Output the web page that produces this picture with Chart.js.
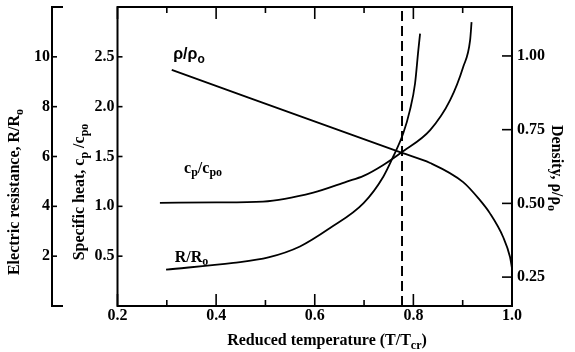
<!DOCTYPE html>
<html>
<head>
<meta charset="utf-8">
<script src="https://cdn.jsdelivr.net/npm/chart.js@4.4.1/dist/chart.umd.min.js"></script>
<style>
    html, body { margin: 0; padding: 0; background: #fff; }
    #wrap { width: 575px; height: 352px; }
</style>
</head>
<body>
<div id="wrap"><canvas id="chart" width="575" height="352"></canvas></div>
<script>
// values (x = reduced temperature T/Tcr)
const tempRho = [0.31, 0.777, 0.834, 0.901, 0.935, 0.955, 0.982, 0.996, 1.0];
const rhoVals = [0.953, 0.671, 0.637, 0.572, 0.511, 0.467, 0.386, 0.318, 0.28];

const tempCp = [0.286, 0.40, 0.495, 0.597, 0.665, 0.699, 0.739, 0.777, 0.834, 0.8745, 0.901, 0.915, 0.918];
const cpVals = [1.035, 1.04, 1.048, 1.138, 1.248, 1.305, 1.415, 1.545, 1.765, 2.065, 2.398, 2.665, 2.848];

const tempR = [0.2985, 0.435, 0.506, 0.570, 0.631, 0.699, 0.739, 0.759, 0.7795, 0.793, 0.8034, 0.810, 0.8136];
const rVals = [1.46, 1.73, 1.95, 2.39, 3.13, 4.13, 5.19, 5.99, 6.93, 7.86, 8.93, 10.26, 10.93];

const criticalT = 0.777;

const xTicks = [0.2, 0.3, 0.4, 0.5, 0.6, 0.7, 0.8, 0.9, 1.0];
const xLabels = [0.2, 0.4, 0.6, 0.8, 1.0];
const cpTicks = [0.5, 1.0, 1.5, 2.0, 2.5];
const rTicks = [2, 4, 6, 8, 10];
const rhoTicks = [0.25, 0.50, 0.75, 1.00];

const SERIF = '"Liberation Serif", "Times New Roman", serif';
const SANS = '"Liberation Sans", Arial, sans-serif';

const toPoints = (xs, ys) => xs.map((x, i) => ({ x, y: ys[i] }));

// text with subscripts: parts = [[text], [text, 'sub'], ...]
function drawRich(ctx, parts, x, y, size, align, family) {
    const fam = family || SERIF;
    const subSize = Math.round(size * 0.75);
    let w = 0;
    parts.forEach(p => {
        ctx.font = `bold ${p[1] ? subSize : size}px ${fam}`;
        w += ctx.measureText(p[0]).width;
    });
    let cx = align === 'center' ? x - w / 2 : align === 'right' ? x - w : x;
    ctx.textAlign = 'left';
    ctx.textBaseline = 'middle';
    parts.forEach(p => {
        ctx.font = `bold ${p[1] ? subSize : size}px ${fam}`;
        ctx.fillText(p[0], cx, p[1] ? y + size * 0.3 : y);
        cx += ctx.measureText(p[0]).width;
    });
}

function line(ctx, x1, y1, x2, y2) {
    ctx.beginPath();
    ctx.moveTo(x1, y1);
    ctx.lineTo(x2, y2);
    ctx.stroke();
}

const axesPlugin = {
    id: 'bookAxes',
    afterDraw(chart) {
        const { ctx, chartArea: a, scales } = chart;
        const x = scales.x, cp = scales.cp, r = scales.res, rho = scales.rho;
        ctx.save();
        ctx.strokeStyle = '#000';
        ctx.fillStyle = '#000';
        ctx.lineWidth = 2;

        // frame
        ctx.strokeRect(a.left, a.top, a.right - a.left, a.bottom - a.top);

        // x ticks, inward at bottom and top
        ctx.lineWidth = 1.6;
        xTicks.forEach(v => {
            const px = x.getPixelForValue(v);
            const len = xLabels.some(l => Math.abs(l - v) < 1e-9) ? 12 : 6;
            line(ctx, px, a.bottom, px, a.bottom - len);
            line(ctx, px, a.top, px, a.top + len);
        });
        xLabels.forEach(v => {
            drawRich(ctx, [[v.toFixed(1)]], x.getPixelForValue(v), a.bottom + 10, 16, 'center');
        });
        drawRich(ctx, [['Reduced temperature (T/T'], ['cr', 'sub'], [')']], 327, 341, 16, 'center');

        // specific heat axis on the frame
        cpTicks.forEach(v => {
            const py = cp.getPixelForValue(v);
            line(ctx, a.left, py, a.left + 5, py);
            drawRich(ctx, [[v.toFixed(1)]], a.left - 3, py, 16, 'right');
        });

        // electric resistance axis, detached bracket
        const rx = 52;
        ctx.lineWidth = 2;
        ctx.beginPath();
        ctx.moveTo(rx + 11, r.getPixelForValue(r.max));
        ctx.lineTo(rx, r.getPixelForValue(r.max));
        ctx.lineTo(rx, r.getPixelForValue(r.min));
        ctx.lineTo(rx + 11, r.getPixelForValue(r.min));
        ctx.stroke();
        ctx.lineWidth = 1.6;
        rTicks.forEach(v => {
            const py = r.getPixelForValue(v);
            line(ctx, rx, py, rx + 5, py);
            drawRich(ctx, [[String(v)]], rx - 2, py, 16, 'right');
        });

        // density axis on the right edge
        rhoTicks.forEach(v => {
            const py = rho.getPixelForValue(v);
            line(ctx, a.right, py, a.right - 10, py);
            drawRich(ctx, [[v.toFixed(2)]], a.right + 5, py, 16, 'left');
        });

        // axis titles
        ctx.save();
        ctx.translate(15, 192);
        ctx.rotate(-Math.PI / 2);
        drawRich(ctx, [['Electric resistance, R/R'], ['o', 'sub']], 0, 0, 16, 'center');
        ctx.restore();

        ctx.save();
        ctx.translate(80, 192);
        ctx.rotate(-Math.PI / 2);
        drawRich(ctx, [['Specific heat, c'], ['p', 'sub'], [' /c'], ['po', 'sub']], 0, 0, 16, 'center');
        ctx.restore();

        ctx.save();
        ctx.translate(556, 168);
        ctx.rotate(Math.PI / 2);
        drawRich(ctx, [['Density, ρ/ρ'], ['o', 'sub']], 0, 0, 16, 'center');
        ctx.restore();

        // curve labels
        drawRich(ctx, [['ρ/ρ'], ['o', 'sub']], x.getPixelForValue(0.313), rho.getPixelForValue(1.005), 16, 'left', SANS);
        drawRich(ctx, [['c'], ['p', 'sub'], ['/c'], ['po', 'sub']], x.getPixelForValue(0.335), cp.getPixelForValue(1.38), 16, 'left');
        drawRich(ctx, [['R/R'], ['o', 'sub']], x.getPixelForValue(0.316), r.getPixelForValue(1.95), 16, 'left');

        ctx.restore();
    }
};

const curve = (data, axis) => ({
    data, yAxisID: axis,
    borderColor: '#000', borderWidth: 1.8,
    pointRadius: 0, cubicInterpolationMode: 'monotone', fill: false
});

new Chart(document.getElementById('chart').getContext('2d'), {
    type: 'line',
    data: {
        datasets: [
            curve(toPoints(tempRho, rhoVals), 'rho'),
            curve(toPoints(tempCp, cpVals), 'cp'),
            curve(toPoints(tempR, rVals), 'res'),
            {
                data: [{ x: criticalT, y: 0 }, { x: criticalT, y: 3 }], yAxisID: 'cp',
                borderColor: '#000', borderWidth: 2, borderDash: [10, 5],
                pointRadius: 0, fill: false
            }
        ]
    },
    options: {
        responsive: false, animation: false, devicePixelRatio: 1,
        layout: { padding: { left: 117.5, right: 63, top: 7, bottom: 46 } },
        plugins: { legend: { display: false }, tooltip: { enabled: false } },
        scales: {
            x: { type: 'linear', axis: 'x', min: 0.2, max: 1.0, display: false },
            cp: { type: 'linear', axis: 'y', position: 'left', min: 0, max: 3, display: false },
            res: { type: 'linear', axis: 'y', position: 'left', min: 0, max: 12, display: false },
            rho: { type: 'linear', axis: 'y', position: 'right', min: 0.152, max: 1.166, display: false }
        }
    },
    plugins: [axesPlugin]
});
</script>
</body>
</html>
